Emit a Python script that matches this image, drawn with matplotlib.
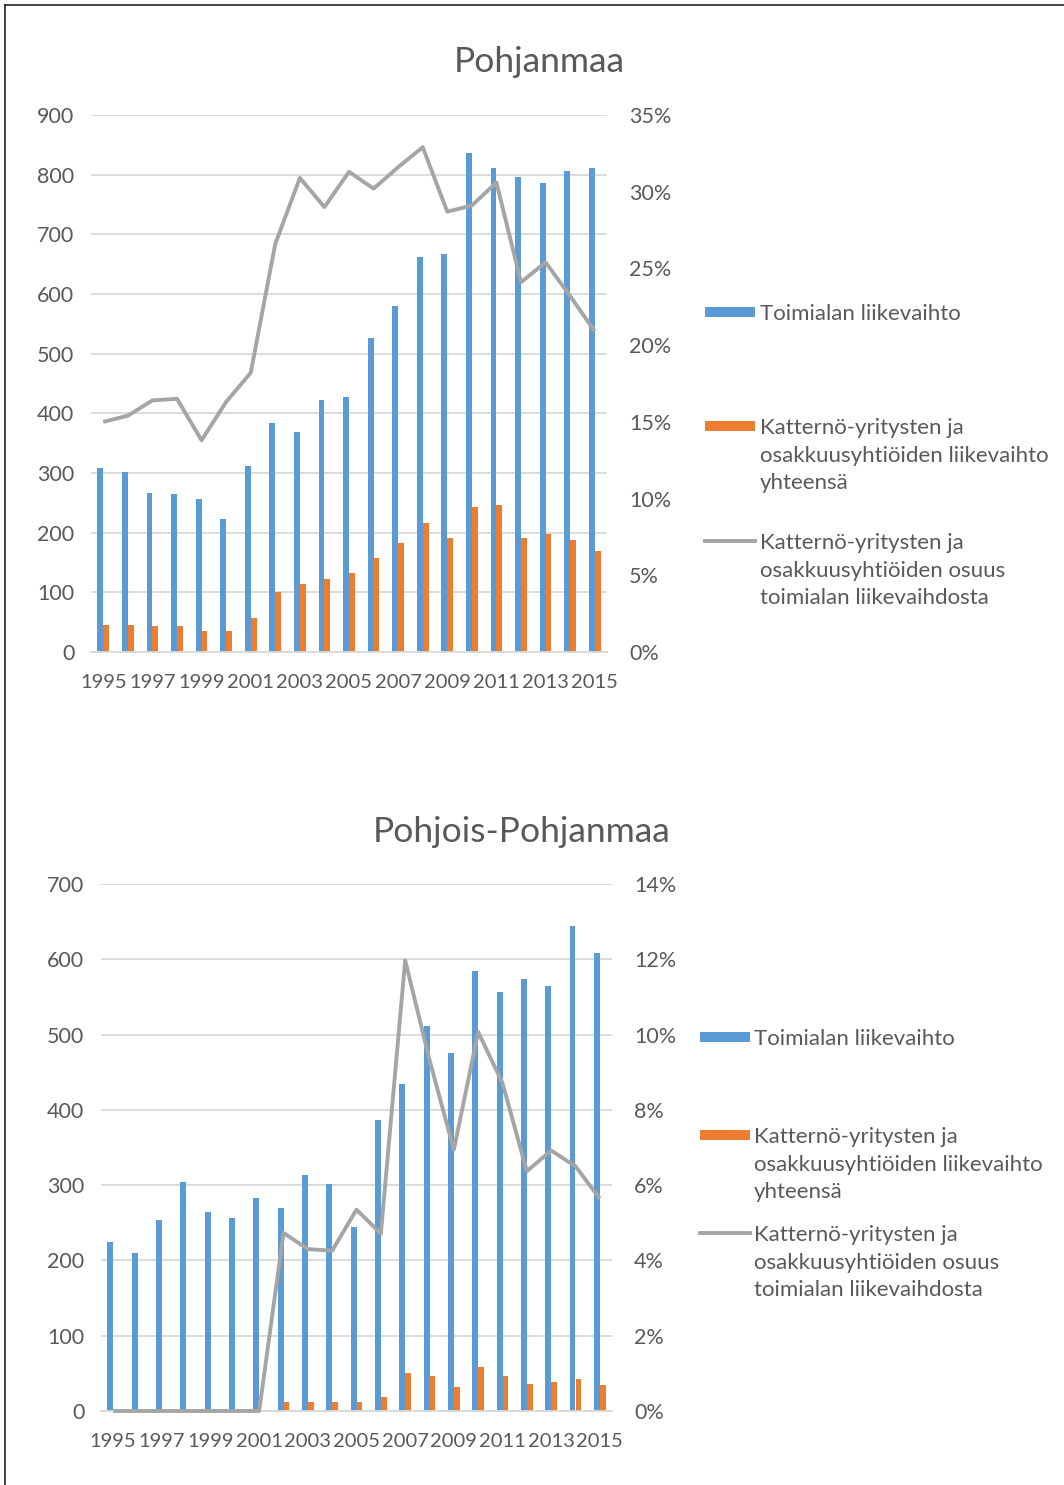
import matplotlib
matplotlib.use("Agg")
import matplotlib.pyplot as plt
from matplotlib.ticker import FuncFormatter, MultipleLocator
from matplotlib.patches import Rectangle
from matplotlib.lines import Line2D

# ---------------- data ----------------
years = list(range(1995, 2016))
year_labels = [str(y) if (y - 1995) % 2 == 0 else "" for y in years]

title_1 = "Pohjanmaa"
toimiala_1 = [308, 302, 266, 265, 256, 223, 312, 383, 369, 422, 427,
              526, 580, 662, 667, 837, 811, 796, 786, 806, 811]
katterno_1 = [46, 46, 43, 43, 35, 36, 57, 101, 114, 122, 133,
              158, 182, 217, 191, 243, 247, 191, 198, 187, 169]
osuus_1 = [15.0, 15.4, 16.4, 16.5, 13.8, 16.3, 18.2, 26.6, 30.9, 29.0, 31.3,
           30.2, 31.6, 32.9, 28.7, 29.1, 30.6, 24.1, 25.4, 23.2, 20.9]

title_2 = "Pohjois-Pohjanmaa"
toimiala_2 = [224, 210, 254, 304, 264, 256, 283, 270, 313, 302, 245,
              386, 434, 511, 475, 584, 556, 574, 565, 644, 609]
katterno_2 = [0, 0, 0, 0, 0, 0, 0, 12, 12, 12, 12,
              18, 51, 46, 32, 58, 46, 36, 38, 42, 34]
osuus_2 = [0, 0, 0, 0, 0, 0, 0, 4.73, 4.30, 4.26, 5.35,
           4.71, 11.97, 9.33, 6.94, 10.07, 8.71, 6.37, 6.92, 6.50, 5.64]

legend_labels = [
    ["Toimialan liikevaihto"],
    ["Katternö-yritysten ja", "osakkuusyhtiöiden liikevaihto", "yhteensä"],
    ["Katternö-yritysten ja", "osakkuusyhtiöiden osuus", "toimialan liikevaihdosta"],
]

# ---------------- style ----------------
BLUE = "#5B9BD5"
ORANGE = "#ED7D31"
GREY = "#A5A5A5"
TEXT = "#595959"
GRID = "#D9D9D9"
FONT = ["Lato", "DejaVu Sans"]
plt.rcParams["font.family"] = FONT

W, H = 1064, 1485
fig = plt.figure(figsize=(W / 100, H / 100), dpi=100)
fig.patch.set_facecolor("white")


def fx(x):
    return x / W


def fy(y):
    return 1 - y / H


def make_chart(box, title, title_xy, bars_a, bars_b, share, lmax, lstep, rmax, rstep,
               leg_x, leg_text_x, leg_ys):
    x0, x1, y0, y1 = box
    ax = fig.add_axes([fx(x0), fy(y1), (x1 - x0) / W, (y1 - y0) / H])
    idx = list(range(len(years)))
    bw = 0.24
    ax.bar([i - bw / 2 for i in idx], bars_a, width=bw, color=BLUE, zorder=2)
    ax.bar([i + bw / 2 for i in idx], bars_b, width=bw, color=ORANGE, zorder=2)
    ax.set_xlim(-0.5, len(years) - 0.5)
    ax.set_ylim(0, lmax)
    ax.yaxis.set_major_locator(MultipleLocator(lstep))
    ax.grid(axis="y", color=GRID, linewidth=1.3, zorder=0)
    ax.set_axisbelow(True)
    for s in ["top", "right", "left"]:
        ax.spines[s].set_visible(False)
    ax.spines["bottom"].set_color(GRID)
    ax.spines["bottom"].set_linewidth(1.3)
    ax.set_xticks(idx)
    ax.set_xticklabels(year_labels)
    ax.tick_params(axis="x", length=0, pad=16, labelsize=14.5, labelcolor=TEXT)
    ax.tick_params(axis="y", length=0, pad=12, labelsize=15.5, labelcolor=TEXT)

    ax2 = ax.twinx()
    ax2.plot(idx, share, color=GREY, linewidth=2.8, solid_joinstyle="round",
             solid_capstyle="butt", zorder=3, clip_on=False)
    ax2.set_ylim(0, rmax)
    ax2.yaxis.set_major_locator(MultipleLocator(rstep))
    ax2.yaxis.set_major_formatter(FuncFormatter(lambda v, p: f"{v:.0f}%"))
    ax2.tick_params(axis="y", length=0, pad=16, labelsize=15.5, labelcolor=TEXT)
    for s in ax2.spines.values():
        s.set_visible(False)

    fig.text(fx(title_xy[0]), fy(title_xy[1]), title, ha="center", va="center",
             fontsize=25.5, color=TEXT)

    # legend
    pitch = 27.7
    kinds = ["bar_a", "bar_b", "line"]
    colors = [BLUE, ORANGE, GREY]
    for kind, col, lines, y in zip(kinds, colors, legend_labels, leg_ys):
        if kind == "line":
            fig.add_artist(Line2D([fx(leg_x), fx(leg_x + 50)], [fy(y), fy(y)],
                                  transform=fig.transFigure, color=col, linewidth=2.8))
        else:
            fig.add_artist(Rectangle((fx(leg_x), fy(y + 5)), 50 / W, 10 / H,
                                     transform=fig.transFigure, facecolor=col,
                                     edgecolor="none"))
        for j, t in enumerate(lines):
            fig.text(fx(leg_text_x), fy(y + j * pitch), t, ha="left",
                     va="center_baseline", fontsize=16, color=TEXT)
    return ax, ax2


make_chart((91, 607, 115, 652), title_1, (539, 62), toimiala_1, katterno_1, osuus_1,
           900, 100, 35, 5, 705, 760, [312, 426, 541])
make_chart((101, 612, 884, 1411), title_2, (522, 832), toimiala_2, katterno_2, osuus_2,
           700, 100, 14, 2, 700, 754, [1037, 1135, 1233])

# border (top and left)
fig.add_artist(Line2D([fx(4.5), 1], [fy(5), fy(5)], transform=fig.transFigure,
                      color="#222222", linewidth=1.2))
fig.add_artist(Line2D([fx(4.5), fx(4.5)], [fy(5), 0], transform=fig.transFigure,
                      color="#222222", linewidth=1.2))

fig.savefig("out.png", dpi=100, facecolor="white")
